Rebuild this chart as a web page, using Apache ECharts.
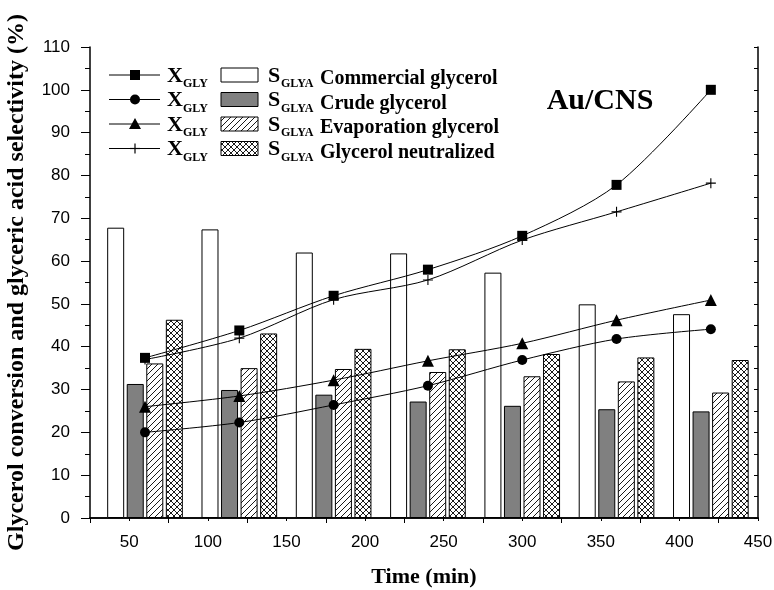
<!DOCTYPE html>
<html><head><meta charset="utf-8">
<script src="https://cdn.jsdelivr.net/npm/echarts@6/dist/echarts.min.js"></script>
<style>html,body{margin:0;padding:0;background:#fff}#c{width:774px;height:590px}</style>
</head><body><div id="c"></div>
<script>
// ---- data ----
const times = [60, 120, 180, 240, 300, 360, 420];
const xLabelValues = [50, 100, 150, 200, 250, 300, 350, 400, 450];
const xTickValues = [25, 75, 125, 175, 225, 275, 325, 375, 425];
const seriesNames = ['Commercial glycerol', 'Crude glycerol', 'Evaporation glycerol', 'Glycerol neutralized'];
// glyceric acid selectivity (bars)
const selCommercial = [67.8, 67.4, 62.0, 61.8, 57.3, 49.9, 47.6];
const selCrude = [31.3, 29.9, 28.8, 27.2, 26.2, 25.4, 24.9];
const selEvaporation = [36.1, 35.0, 34.8, 34.1, 33.1, 31.9, 29.3];
const selNeutralized = [46.3, 43.1, 39.5, 39.4, 38.3, 37.5, 36.9];
// glycerol conversion (lines)
const convCommercial = [37.4, 43.8, 51.9, 58.0, 65.9, 77.8, 100.0];
const convCrude = [20.0, 22.3, 26.4, 30.9, 36.9, 41.8, 44.1];
const convEvaporation = [26.0, 28.5, 32.2, 36.7, 40.8, 46.2, 50.9];
const convNeutralized = [37.0, 42.0, 51.0, 55.6, 64.9, 71.5, 78.2];

// ---- patterns ----
function makePattern(cross) {
  const s = 6;
  const c = document.createElement('canvas');
  c.width = s; c.height = s;
  const g = c.getContext('2d');
  g.fillStyle = '#fff'; g.fillRect(0, 0, s, s);
  g.strokeStyle = '#000'; g.lineWidth = 0.9;
  g.beginPath();
  g.moveTo(0, s); g.lineTo(s, 0);
  g.moveTo(-1, 1); g.lineTo(1, -1);
  g.moveTo(s - 1, s + 1); g.lineTo(s + 1, s - 1);
  if (cross) {
    g.moveTo(0, 0); g.lineTo(s, s);
    g.moveTo(-1, s - 1); g.lineTo(1, s + 1);
    g.moveTo(s - 1, -1); g.lineTo(s + 1, 1);
  }
  g.stroke();
  return { image: c, repeat: 'repeat' };
}
const hatch = makePattern(false);
const crossHatch = makePattern(true);
const barFills = ['#ffffff', '#808080', hatch, crossHatch];
const barData = [selCommercial, selCrude, selEvaporation, selNeutralized];
const lineData = [convCommercial, convCrude, convEvaporation, convNeutralized];
const plusPath = 'path://M4.45,0H5.55V10H4.45ZM0,4.45H10V5.55H0Z';
const symbols = ['rect', 'circle', 'triangle', plusPath];
const symbolSizes = [10, 10, 12, 10];

const serif = 'Liberation Serif, Times New Roman, serif';
const sans = 'Liberation Sans, Arial, sans-serif';

const series = [];
barData.forEach((d, i) => {
  series.push({
    type: 'bar', name: 'S ' + seriesNames[i],
    data: times.map((t, k) => [t, d[k]]),
    barWidth: 17, barGap: '15%',
    itemStyle: { color: barFills[i], borderColor: '#000', borderWidth: 1 },
    z: 2
  });
});
lineData.forEach((d, i) => {
  series.push({
    type: 'line', name: 'X ' + seriesNames[i],
    data: times.map((t, k) => [t, d[k]]),
    smooth: 0.3,
    symbol: symbols[i], symbolSize: symbolSizes[i],
    lineStyle: { color: '#000', width: 1 },
    itemStyle: { color: '#000' },
    z: 5
  });
});

// ---- legend (custom) ----
const rowY = [75, 99.5, 124, 148.5];
const legendEls = [];
rowY.forEach((y, i) => {
  legendEls.push({ type: 'line', shape: { x1: 109, y1: y, x2: 160, y2: y }, style: { stroke: '#000', lineWidth: 1 } });
  if (i === 0) legendEls.push({ type: 'rect', shape: { x: 130, y: y - 5, width: 10, height: 10 }, style: { fill: '#000' } });
  if (i === 1) legendEls.push({ type: 'circle', shape: { cx: 135, cy: y, r: 5 }, style: { fill: '#000' } });
  if (i === 2) legendEls.push({ type: 'polygon', shape: { points: [[135, y - 6], [141, y + 5], [129, y + 5]] }, style: { fill: '#000' } });
  if (i === 3) {
    legendEls.push({ type: 'line', shape: { x1: 130, y1: y, x2: 140, y2: y }, style: { stroke: '#000', lineWidth: 1.2 } });
    legendEls.push({ type: 'line', shape: { x1: 135, y1: y - 5, x2: 135, y2: y + 5 }, style: { stroke: '#000', lineWidth: 1.2 } });
  }
  legendEls.push({ type: 'text', x: 167, y: y + 1, style: { text: 'X', font: 'bold 22px ' + serif, fill: '#000', align: 'left', verticalAlign: 'middle' } });
  legendEls.push({ type: 'text', x: 183, y: y + 9, style: { text: 'GLY', font: 'bold 12px ' + serif, fill: '#000', align: 'left', verticalAlign: 'middle' } });
  legendEls.push({ type: 'rect', shape: { x: 221, y: y - 7, width: 37, height: 14 }, style: { fill: barFills[i], stroke: '#000', lineWidth: 1 } });
  legendEls.push({ type: 'text', x: 268, y: y + 1, style: { text: 'S', font: 'bold 22px ' + serif, fill: '#000', align: 'left', verticalAlign: 'middle' } });
  legendEls.push({ type: 'text', x: 281, y: y + 9, style: { text: 'GLYA', font: 'bold 12px ' + serif, fill: '#000', align: 'left', verticalAlign: 'middle' } });
  legendEls.push({ type: 'text', x: 320, y: y + 4, style: { text: seriesNames[i], font: 'bold 20px ' + serif, fill: '#000', align: 'left', verticalAlign: 'middle' } });
});
legendEls.push({ type: 'text', x: 600, y: 101, style: { text: 'Au/CNS', font: 'bold 30px ' + serif, fill: '#000', align: 'center', verticalAlign: 'middle' } });

const chart = echarts.init(document.getElementById('c'));
chart.setOption({
  animation: false,
  backgroundColor: '#fff',
  grid: { left: 90, right: 16, top: 47, bottom: 72, containLabel: false, outerBoundsMode: 'none' },
  xAxis: [{
    type: 'value', min: 25, max: 450, position: 'bottom',
    name: 'Time (min)', nameLocation: 'middle', nameGap: 48,
    nameTextStyle: { fontFamily: serif, fontWeight: 'bold', fontSize: 22, color: '#000' },
    axisLine: { lineStyle: { color: '#000', width: 1.5 } },
    axisTick: { show: true, inside: false, length: 5, customValues: xTickValues, lineStyle: { color: '#000', width: 1 } },
    axisLabel: { customValues: xLabelValues, fontFamily: sans, fontSize: 17, color: '#000', margin: 16 },
    splitLine: { show: false }
  }, {
    type: 'value', min: 25, max: 450, interval: 25, position: 'top',
    axisLine: { lineStyle: { color: '#000', width: 1.5 } },
    axisTick: { show: true, inside: true, length: 3, lineStyle: { color: '#000' } },
    axisLabel: { show: false }, splitLine: { show: false }
  }],
  yAxis: [{
    type: 'value', min: 0, max: 110, interval: 10, position: 'left',
    name: 'Glycerol conversion and glyceric acid selectivity (%)', nameLocation: 'middle', nameGap: 61,
    nameTextStyle: { fontFamily: serif, fontWeight: 'bold', fontSize: 24, color: '#000' },
    axisLine: { show: true, lineStyle: { color: '#000', width: 1.5 } },
    axisTick: { show: true, inside: false, length: 9, lineStyle: { color: '#000', width: 1 } },
    minorTick: { show: true, splitNumber: 2, length: 5, lineStyle: { color: '#000', width: 1 } },
    axisLabel: { fontFamily: sans, fontSize: 17, color: '#000', margin: 20 },
    splitLine: { show: false }, minorSplitLine: { show: false }
  }, {
    type: 'value', min: 0, max: 110, interval: 5, position: 'right',
    axisLine: { show: true, lineStyle: { color: '#000', width: 1.5 } },
    axisTick: { show: true, inside: true, length: 4, lineStyle: { color: '#000' } },
    axisLabel: { show: false }, splitLine: { show: false }
  }],
  series: series,
  graphic: legendEls
});
</script></body></html>
